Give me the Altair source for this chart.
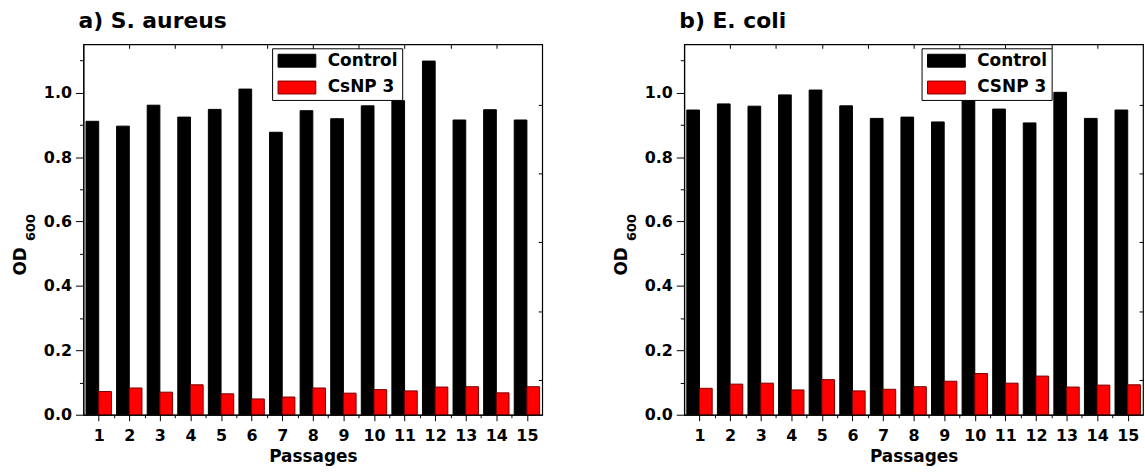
import altair as alt
import pandas as pd

passages = list(range(1, 16))
names_a = ["Control", "CsNP 3"]
names_b = ["Control", "CSNP 3"]

sa_control = [0.911, 0.896, 0.961, 0.924, 0.948, 1.011, 0.877, 0.944, 0.919, 0.959, 0.975, 1.098, 0.915, 0.947, 0.915]
sa_csnp = [0.072, 0.083, 0.070, 0.093, 0.065, 0.049, 0.055, 0.083, 0.067, 0.078, 0.074, 0.086, 0.087, 0.068, 0.087]
ec_control = [0.946, 0.965, 0.958, 0.993, 1.008, 0.959, 0.920, 0.924, 0.909, 0.981, 0.949, 0.906, 1.001, 0.920, 0.946]
ec_csnp = [0.082, 0.095, 0.098, 0.077, 0.109, 0.074, 0.079, 0.087, 0.104, 0.128, 0.098, 0.120, 0.086, 0.092, 0.093]

x_minor = [1.5, 2.5, 3.5, 4.5, 5.5, 6.5, 7.5, 8.5, 9.5, 10.5, 11.5, 12.5, 13.5, 14.5]
top_ticks = [2, 3.5, 5, 6.5, 8, 9.5, 11, 12.5, 14]
y_major = [0, 0.2, 0.4, 0.6, 0.8, 1.0]
y_minor = [0.1, 0.3, 0.5, 0.7, 0.9, 1.1]
right_ticks = [0.107, 0.321, 0.535, 0.749, 0.963]

FONT = "DejaVu Sans"
HALF = 0.415
W, H = 462, 373


def panel(title, control, treated, names, legend_x):
    df = pd.DataFrame({
        "Passage": passages + passages,
        "Series": [names[0]] * 15 + [names[1]] * 15,
        "OD": control + treated,
    })
    xs = alt.Scale(domain=[0.5, 15.5], nice=False, zero=False)
    ys = alt.Scale(domain=[0, 1.15], nice=False, zero=False)
    base = alt.Chart(df).transform_calculate(
        x0=f"datum.Series === '{names[0]}' ? datum.Passage - {HALF} : datum.Passage"
    ).transform_calculate(x1=f"datum.x0 + {HALF}")

    leg = alt.Legend(
        title=None, orient="none", legendX=legend_x, legendY=4,
        strokeColor="black", fillColor="white", padding=4,
        symbolType="M-1,-1H4.85V1H-1Z", symbolSize=169, symbolStrokeWidth=1,
        labelFont=FONT, labelFontSize=17, labelFontWeight="bold", labelColor="black",
        labelOffset=35, rowPadding=9, cornerRadius=0,
    )
    bars = base.mark_rect(strokeWidth=1).encode(
        x=alt.X("x0:Q", scale=xs, axis=alt.Axis(
            values=passages, format="d", labelAngle=0, tickSize=6, tickColor="black",
            domainColor="black", labelFont=FONT, labelFontSize=16, labelFontWeight="bold",
            labelColor="black", labelPadding=7, title="Passages", titleFont=FONT,
            titleFontSize=17, titleFontWeight="bold", titleColor="black", titlePadding=5,
            grid=False, zindex=1, orient="bottom")),
        x2="x1:Q",
        y=alt.Y("OD:Q", scale=ys, axis=alt.Axis(
            values=y_major, format=".1f", tickSize=8, tickColor="black", domainColor="black",
            labelFont=FONT, labelFontSize=16, labelFontWeight="bold", labelColor="black",
            labelPadding=4, title="OD", titleFont=FONT, titleFontSize=17,
            titleFontWeight="bold", titleColor="black", titleX=-58.5, titleY=218,
            titleAngle=270, titleAlign="center", titleBaseline="alphabetic",
            grid=False, zindex=1, orient="left")),
        y2=alt.Y2(datum=0),
        color=alt.Color("Series:N", scale=alt.Scale(domain=names, range=["#000000", "#ff0000"]), legend=leg),
        stroke=alt.Stroke("Series:N", scale=alt.Scale(domain=names, range=["#000000", "#7a0000"]), legend=leg),
    )
    minor = base.mark_point(opacity=0).encode(
        x=alt.X("Passage:Q", scale=xs, axis=alt.Axis(
            values=x_minor, labels=False, domain=False, tickSize=3, tickColor="black",
            title=None, grid=False, zindex=1, orient="bottom")),
        y=alt.Y("OD:Q", scale=ys, axis=alt.Axis(
            values=y_minor, labels=False, domain=False, tickSize=4, tickColor="black",
            title="600", titleFont=FONT, titleFontSize=13, titleFontWeight="bold",
            titleColor="black", titleX=-49, titleY=184, titleAngle=270,
            titleAlign="center", titleBaseline="alphabetic",
            grid=False, zindex=1, orient="left")),
    )
    mirror = base.mark_point(opacity=0).encode(
        x=alt.X("Passage:Q", scale=xs, axis=alt.Axis(
            values=top_ticks, labels=False, domain=False, tickSize=4, offset=-4,
            tickColor="black", title=None, grid=False, zindex=1, orient="top")),
        y=alt.Y("OD:Q", scale=ys, axis=alt.Axis(
            values=right_ticks, labels=False, domain=False, tickSize=4, offset=-4,
            tickColor="black", title=None, grid=False, zindex=1, orient="right")),
    )
    return alt.layer(bars, minor, mirror).resolve_axis(
        x="independent", y="independent"
    ).properties(
        width=W, height=H,
        title=alt.TitleParams(title, anchor="start", frame="group", font=FONT, fontSize=22,
                              fontWeight="bold", color="black", offset=11, dx=-5),
    )


pa = panel("a) S. aureus", sa_control, sa_csnp, names_a, 190)
pb = panel("b) E. coli", ec_control, ec_csnp, names_b, 239)

chart = alt.hconcat(pa, pb, spacing=67).resolve_scale(
    color="independent", stroke="independent"
).resolve_legend(
    color="independent", stroke="independent"
).properties(
    padding={"left": 10, "top": 7, "right": 0, "bottom": 0},
    background="white",
).configure_view(stroke="black", strokeWidth=1.2)

chart.save("out.html", embed_options={"renderer": "svg", "actions": False})
